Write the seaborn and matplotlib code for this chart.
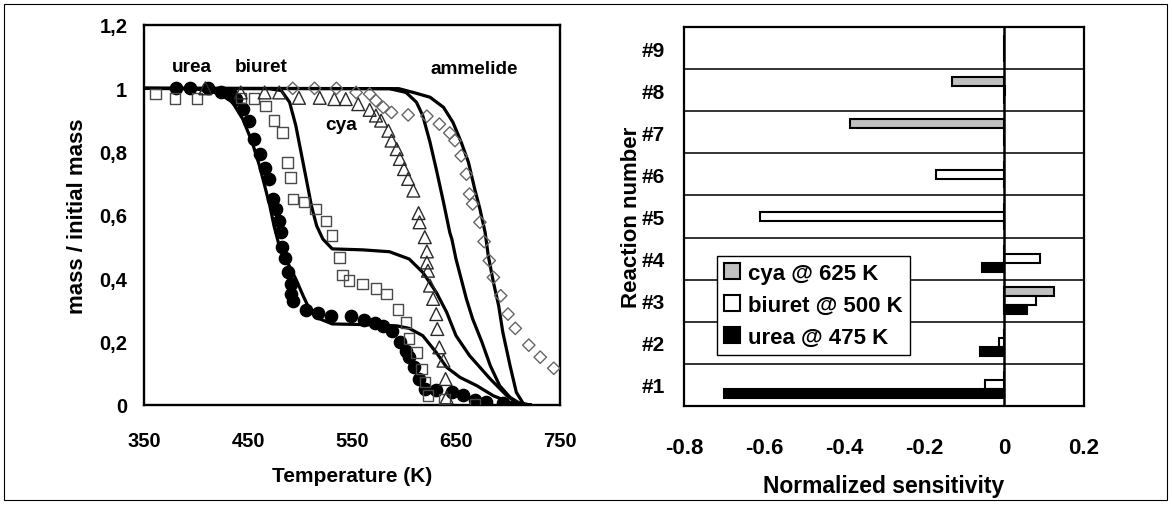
import matplotlib
matplotlib.use("Agg")
import matplotlib.pyplot as plt
from matplotlib.patches import Rectangle, Patch
import numpy as np
import pandas as pd
import seaborn as sns

# ---------------- data: left panel (mass loss vs temperature) ----------------
urea_T = [381, 394, 412, 424, 434, 438, 445, 451, 456, 462, 466, 470, 474, 477, 480,
          482, 483, 486, 488, 491, 491, 493, 506, 517, 530, 549, 562, 572, 580, 588,
          596, 602, 605, 610, 614, 620, 631, 646, 657, 668, 679, 695]
urea_m = [1.0, 1.0, 1.0, 0.99, 0.982, 0.966, 0.935, 0.898, 0.84, 0.793, 0.75, 0.714,
          0.65, 0.619, 0.582, 0.545, 0.498, 0.463, 0.419, 0.382, 0.35, 0.329, 0.301,
          0.29, 0.28, 0.28, 0.269, 0.259, 0.248, 0.235, 0.198, 0.172, 0.151, 0.119,
          0.082, 0.05, 0.048, 0.04, 0.032, 0.017, 0.009, 0.006]

biuret_T = [361, 380, 401, 443, 456, 467, 475, 483, 488, 491, 493, 504, 515, 525, 531,
            538, 541, 547, 560, 573, 583, 594, 602, 605, 612, 617, 620, 623, 639, 668]
biuret_m = [0.982, 0.968, 0.968, 0.97, 0.968, 0.945, 0.898, 0.861, 0.766, 0.719, 0.65,
            0.642, 0.619, 0.582, 0.535, 0.466, 0.41, 0.393, 0.382, 0.368, 0.35, 0.301,
            0.261, 0.21, 0.166, 0.114, 0.072, 0.03, 0.019, 0.003]

cya_T = [409, 443, 466, 480, 499, 519, 533, 544, 556, 567, 573, 578, 585, 588, 593, 596,
         600, 604, 609, 614, 615, 620, 622, 622, 623, 625, 628, 631, 632, 634, 638, 640, 641]
cya_m = [1.0, 0.987, 0.987, 0.987, 0.97, 0.97, 0.966, 0.966, 0.95, 0.932, 0.914, 0.898,
         0.866, 0.835, 0.808, 0.777, 0.745, 0.714, 0.677, 0.606, 0.577, 0.53, 0.485,
         0.45, 0.424, 0.377, 0.335, 0.287, 0.24, 0.182, 0.14, 0.082, 0.024]

ammelide_T = [493, 514, 535, 554, 567, 573, 580, 588, 604, 622, 634, 644, 649, 655, 660,
              663, 666, 673, 677, 682, 686, 693, 700, 707, 720, 731, 744]
ammelide_m = [1.0, 1.0, 1.0, 0.987, 0.982, 0.961, 0.94, 0.924, 0.916, 0.912, 0.887, 0.859,
              0.835, 0.787, 0.729, 0.666, 0.635, 0.577, 0.516, 0.456, 0.403, 0.345, 0.287,
              0.242, 0.189, 0.151, 0.116]

# model curves
urea_model_T = [350, 400, 415, 425, 435, 445, 454, 461, 466, 471, 475, 480, 488, 496, 503,
                509, 519, 531, 560, 593, 605, 618, 631, 641, 654, 670, 686, 702, 714, 722]
urea_model_m = [1.0, 0.998, 0.99, 0.978, 0.956, 0.903, 0.83, 0.756, 0.693, 0.629, 0.566,
                0.503, 0.45, 0.398, 0.345, 0.303, 0.272, 0.256, 0.254, 0.25, 0.242, 0.219,
                0.166, 0.119, 0.087, 0.061, 0.029, 0.008, 0.002, 0.0]
biuret_model_T = [350, 470, 482, 490, 496, 501, 506, 511, 516, 522, 531, 560, 586, 605, 618,
                  631, 641, 650, 663, 683, 699, 708, 716, 722]
biuret_model_m = [1.0, 0.999, 0.993, 0.956, 0.882, 0.798, 0.714, 0.629, 0.566, 0.524, 0.493,
                  0.49, 0.484, 0.461, 0.419, 0.356, 0.293, 0.219, 0.156, 0.082, 0.029, 0.008,
                  0.001, 0.0]
cya_model_T = [350, 586, 602, 612, 618, 625, 631, 638, 644, 646, 650, 655, 660, 666, 675,
               683, 692, 702, 711, 722]
cya_model_m = [1.0, 0.999, 0.987, 0.956, 0.914, 0.83, 0.745, 0.64, 0.545, 0.524, 0.461,
               0.398, 0.335, 0.272, 0.198, 0.124, 0.061, 0.024, 0.006, 0.0]
ammelide_model_T = [350, 595, 609, 625, 638, 647, 655, 662, 668, 673, 678, 681, 686, 691,
                    695, 702, 708, 715, 722]
ammelide_model_m = [1.0, 0.999, 0.987, 0.972, 0.94, 0.893, 0.83, 0.766, 0.682, 0.619, 0.545,
                    0.472, 0.387, 0.314, 0.23, 0.124, 0.04, 0.003, 0.0]

x_ticks_left = [350, 450, 550, 650, 750]
y_ticks_left = [0, 0.2, 0.4, 0.6, 0.8, 1.0, 1.2]
y_tick_labels_left = ["0", "0,2", "0,4", "0,6", "0,8", "1", "1,2"]

# ---------------- data: right panel (sensitivity) ----------------
reactions = ["#1", "#2", "#3", "#4", "#5", "#6", "#7", "#8", "#9"]
series_names = ["cya @ 625 K", "biuret @ 500 K", "urea @ 475 K"]
sens_cya = [0.0, 0.0, 0.125, 0.0, 0.0, 0.0, -0.385, -0.13, 0.0]
sens_biuret = [-0.047, -0.013, 0.08, 0.09, -0.61, -0.17, 0.0, 0.003, 0.0]
sens_urea = [-0.70, -0.06, 0.057, -0.055, 0.0, 0.0, 0.0, 0.0, 0.0]
x_ticks_right = [-0.8, -0.6, -0.4, -0.2, 0.0, 0.2]
x_tick_labels_right = ["-0.8", "-0.6", "-0.4", "-0.2", "0", "0.2"]

# ---------------- style ----------------
sns.set_theme(style="white", rc={"text.color": "black", "axes.labelcolor": "black",
                                 "xtick.color": "black", "ytick.color": "black",
                                 "axes.edgecolor": "black"})
plt.rcParams["font.family"] = ["Liberation Sans", "DejaVu Sans"]
plt.rcParams["font.weight"] = "bold"
plt.rcParams["axes.labelweight"] = "bold"
plt.rcParams["axes.unicode_minus"] = False

W, H = 1172, 506
fig = plt.figure(figsize=(W / 100, H / 100), dpi=100)
fig.patch.set_facecolor("white")
fig.patches.append(Rectangle((4 / W, 5 / H), 1163 / W, 496 / H, transform=fig.transFigure,
                             fill=False, edgecolor="black", lw=0.8))

axL = fig.add_axes([144 / W, (H - 406) / H, 416 / W, 380 / H])
axR = fig.add_axes([684 / W, (H - 407) / H, 400 / W, 379 / H])

# ---------------- left panel ----------------
for T, m in [(urea_model_T, urea_model_m), (biuret_model_T, biuret_model_m),
             (cya_model_T, cya_model_m), (ammelide_model_T, ammelide_model_m)]:
    sns.lineplot(x=T, y=m, color="black", lw=2.3, sort=False, estimator=None,
                 ax=axL, zorder=2)

sns.scatterplot(x=urea_T, y=urea_m, marker="o", s=78, color="black", edgecolor="black",
                linewidth=1.0, ax=axL, zorder=3)
sns.scatterplot(x=biuret_T, y=biuret_m, marker="s", s=56, facecolor="none",
                edgecolor="#4a4a4a", linewidth=1.0, ax=axL, zorder=3)
sns.scatterplot(x=cya_T, y=cya_m, marker="^", s=85, facecolor="none",
                edgecolor="#2a2a2a", linewidth=1.0, ax=axL, zorder=3)
sns.scatterplot(x=ammelide_T, y=ammelide_m, marker="D", s=40, facecolor="none",
                edgecolor="#666666", linewidth=1.0, ax=axL, zorder=3)

axL.set_xlim(350, 750)
axL.set_ylim(0, 1.2)
axL.set_xticks(x_ticks_left)
axL.set_xticklabels([str(v) for v in x_ticks_left])
axL.set_yticks(y_ticks_left)
axL.set_yticklabels(y_tick_labels_left)
axL.tick_params(axis="y", direction="in", length=6, width=1.5, pad=12, labelsize=14.5)
axL.tick_params(axis="x", direction="out", length=6, width=1.5, pad=12.5, labelsize=14.5)
for s in axL.spines.values():
    s.set_linewidth(1.7)
    s.set_color("black")
axL.set_xlabel("Temperature (K)", fontsize=15, fontweight="bold")
axL.set_ylabel("mass / initial mass", fontsize=16, fontweight="bold")
axL.xaxis.set_label_coords(0.5, (406 - 467) / 380)
axL.yaxis.set_label_coords((88 - 144) / 416, 0.5)

for txt, tx, ty in [("urea", 396, 1.07), ("biuret", 462.5, 1.07),
                    ("ammelide", 667.5, 1.063), ("cya", 540, 0.887)]:
    axL.text(tx, ty, txt, ha="center", va="center", fontsize=13.7, fontweight="bold")

# ---------------- right panel ----------------
df = pd.DataFrame({"reaction": reactions * 3,
                   "series": np.repeat(series_names, len(reactions)),
                   "value": sens_cya + sens_biuret + sens_urea})
palette = {"cya @ 625 K": "#c0c0c0", "biuret @ 500 K": "white", "urea @ 475 K": "black"}
sns.barplot(data=df, x="value", y="reaction", hue="series", order=reactions[::-1],
            hue_order=series_names, palette=palette, orient="h", width=0.64,
            edgecolor="black", linewidth=1.5, errorbar=None, legend=False, ax=axR,
            zorder=3)

axR.set_xlim(-0.8, 0.2)
axR.set_ylim(len(reactions) - 0.5, -0.5)
for i in range(len(reactions) - 1):
    axR.axhline(i + 0.5, color="#111111", lw=1.2, zorder=1)
axR.axvline(0, color="black", lw=1.8, zorder=4)
axR.set_xticks(x_ticks_right)
axR.set_xticklabels(x_tick_labels_right)
axR.tick_params(axis="x", direction="out", length=7, width=1.5, pad=15.5, labelsize=16)
axR.tick_params(axis="y", length=0, pad=13.7, labelsize=15)
for s in axR.spines.values():
    s.set_linewidth(1.6)
    s.set_color("black")
axR.set_xlabel("Normalized sensitivity", fontsize=16.5, fontweight="bold")
axR.set_ylabel("Reaction number", fontsize=16, fontweight="bold")
axR.xaxis.set_label_coords(0.5, (407 - 475) / 379)
axR.yaxis.set_label_coords((642 - 684) / 400, 0.5)

handles = [Patch(facecolor=palette[n], edgecolor="black", lw=1.5) for n in series_names]
leg = axR.legend(handles, series_names, loc="upper left",
                 bbox_to_anchor=((717 - 684) / 400, (407 - 257) / 379), borderaxespad=0,
                 fontsize=16, frameon=True, fancybox=False, framealpha=1,
                 edgecolor="black", handlelength=0.72, handleheight=0.72,
                 handletextpad=0.38, labelspacing=0.5, borderpad=0.3)
leg.get_frame().set_linewidth(1.0)
leg.set_zorder(10)
for t in leg.get_texts():
    t.set_fontweight("bold")

fig.savefig("out.png", dpi=100)
